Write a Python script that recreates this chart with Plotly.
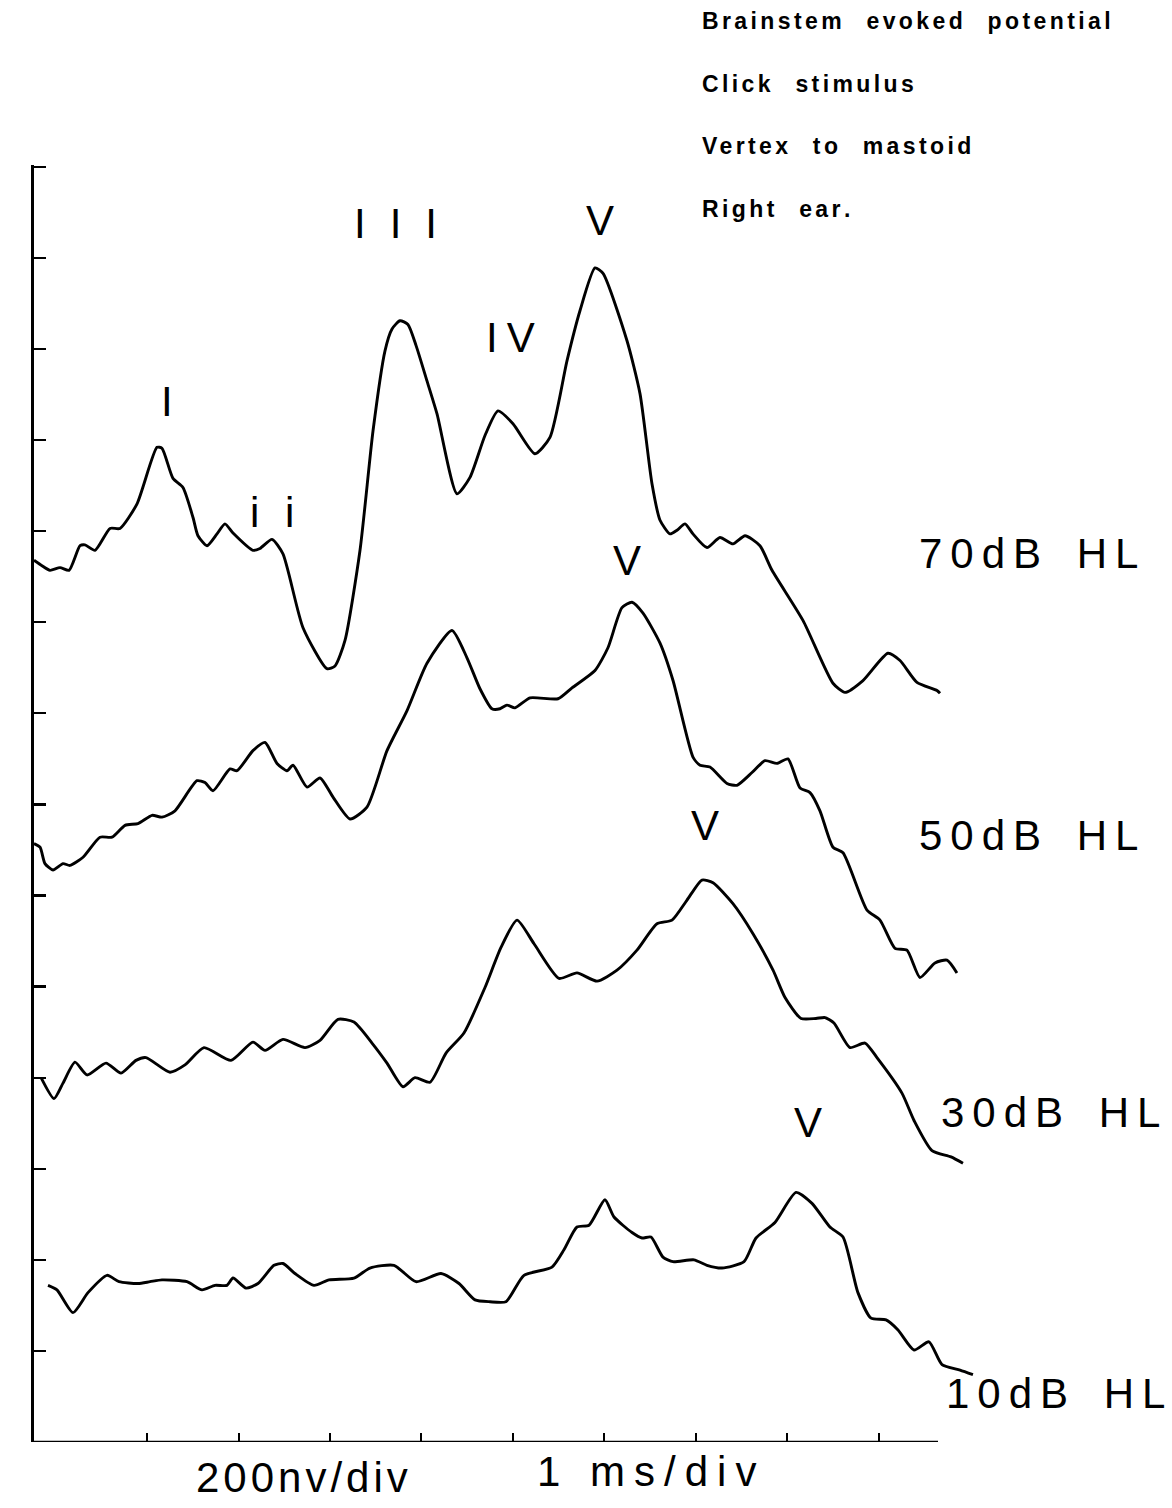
import plotly.graph_objects as go

# ---- recorded waveforms: time in ms, amplitude in 200 nV divisions (stacked) ----
time_70 = [-0.235, -0.148, -0.060, 0.049, 0.148, 0.268, 0.322, 0.432, 0.596, 0.705,
           0.891, 1.109, 1.164, 1.284, 1.393, 1.503, 1.557, 1.656, 1.765, 1.852,
           1.940, 2.158, 2.235, 2.366, 2.486, 2.705, 2.967, 3.055, 3.164, 3.328,
           3.470, 3.601, 3.678, 3.765, 3.852, 3.940, 4.060, 4.169, 4.388, 4.530,
           4.694, 4.836, 5.000, 5.240, 5.404, 5.590, 5.732, 5.896, 5.984, 6.246,
           6.388, 6.519, 6.607, 6.716, 6.792, 6.880, 6.967, 7.120, 7.262, 7.404,
           7.536, 7.699, 7.831, 8.169, 8.497, 8.628, 8.825, 9.098, 9.230, 9.415,
           9.634, 9.667]
amp_70 = [9.68, 9.62, 9.57, 9.60, 9.57, 9.84, 9.85, 9.79, 10.03, 10.03,
          10.30, 10.92, 10.91, 10.58, 10.48, 10.15, 9.95, 9.84, 9.97, 10.08,
          9.98, 9.79, 9.81, 9.91, 9.75, 8.94, 8.49, 8.52, 8.80, 9.79,
          11.10, 11.98, 12.22, 12.31, 12.27, 12.04, 11.65, 11.29, 10.41, 10.59,
          11.05, 11.32, 11.18, 10.85, 11.03, 11.87, 12.42, 12.89, 12.83, 12.09,
          11.51, 10.52, 10.12, 9.97, 10.01, 10.08, 9.97, 9.82, 9.93, 9.86,
          9.95, 9.84, 9.57, 9.02, 8.33, 8.23, 8.36, 8.66, 8.58, 8.34,
          8.25, 8.22]

time_50 = [-0.235, -0.169, -0.115, -0.027, 0.082, 0.158, 0.301, 0.486, 0.617, 0.760,
           0.902, 1.055, 1.164, 1.306, 1.546, 1.634, 1.721, 1.907, 1.984, 2.158,
           2.290, 2.421, 2.530, 2.596, 2.749, 2.891, 3.033, 3.219, 3.404, 3.623,
           3.842, 4.060, 4.333, 4.497, 4.639, 4.770, 4.858, 4.934, 5.022, 5.186,
           5.492, 5.645, 5.896, 6.038, 6.191, 6.301, 6.421, 6.607, 6.749, 6.967,
           7.044, 7.153, 7.339, 7.448, 7.612, 7.754, 7.885, 8.005, 8.137, 8.246,
           8.355, 8.497, 8.607, 8.869, 9.011, 9.175, 9.306, 9.448, 9.612, 9.743,
           9.852]
amp_50 = [6.57, 6.53, 6.35, 6.28, 6.35, 6.33, 6.42, 6.64, 6.64, 6.77,
          6.79, 6.88, 6.86, 6.93, 7.26, 7.24, 7.15, 7.39, 7.37, 7.59,
          7.68, 7.45, 7.37, 7.43, 7.19, 7.29, 7.08, 6.84, 6.97, 7.59,
          8.03, 8.55, 8.91, 8.61, 8.27, 8.05, 8.05, 8.09, 8.06, 8.17,
          8.16, 8.28, 8.47, 8.72, 9.16, 9.22, 9.10, 8.77, 8.36, 7.52,
          7.43, 7.41, 7.23, 7.21, 7.35, 7.48, 7.45, 7.50, 7.18, 7.13,
          6.93, 6.53, 6.47, 5.84, 5.73, 5.42, 5.40, 5.10, 5.26, 5.29,
          5.15]

time_30 = [-0.158, -0.016, 0.082, 0.213, 0.344, 0.552, 0.716, 0.880, 0.989, 1.251,
           1.415, 1.623, 1.918, 2.158, 2.290, 2.486, 2.727, 2.891, 3.087, 3.262,
           3.459, 3.623, 3.798, 3.929, 4.093, 4.268, 4.464, 4.694, 4.869, 5.044,
           5.230, 5.503, 5.699, 5.918, 6.137, 6.355, 6.574, 6.738, 6.902, 7.066,
           7.186, 7.404, 7.623, 7.842, 7.973, 8.148, 8.311, 8.410, 8.508, 8.683,
           8.847, 8.978, 9.251, 9.383, 9.579, 9.787, 9.918]
amp_30 = [4.00, 3.77, 3.94, 4.17, 4.03, 4.16, 4.05, 4.19, 4.22, 4.06,
          4.14, 4.33, 4.19, 4.39, 4.30, 4.42, 4.33, 4.41, 4.64, 4.61,
          4.38, 4.16, 3.90, 4.00, 3.95, 4.27, 4.49, 4.99, 5.43, 5.73,
          5.47, 5.09, 5.15, 5.06, 5.18, 5.40, 5.69, 5.73, 5.95, 6.17,
          6.14, 5.91, 5.58, 5.18, 4.88, 4.65, 4.65, 4.66, 4.60, 4.33,
          4.38, 4.22, 3.83, 3.53, 3.20, 3.13, 3.06]

time_10 = [-0.082, 0.016, 0.191, 0.355, 0.563, 0.694, 0.902, 1.033, 1.164, 1.437,
           1.601, 1.743, 1.874, 1.940, 2.082, 2.213, 2.388, 2.486, 2.617, 2.825,
           2.989, 3.262, 3.437, 3.699, 3.940, 4.213, 4.410, 4.585, 4.749, 4.923,
           5.120, 5.426, 5.557, 5.699, 5.831, 6.005, 6.104, 6.301, 6.410, 6.508,
           6.639, 6.749, 6.978, 7.120, 7.284, 7.525, 7.656, 7.863, 8.093, 8.268,
           8.464, 8.607, 8.770, 8.913, 9.077, 9.208, 9.383, 9.546, 9.689, 9.886,
           10.027]
amp_10 = [1.72, 1.67, 1.42, 1.64, 1.83, 1.76, 1.74, 1.76, 1.78, 1.76,
          1.67, 1.72, 1.72, 1.80, 1.69, 1.74, 1.94, 1.96, 1.85, 1.72,
          1.78, 1.80, 1.91, 1.94, 1.76, 1.85, 1.74, 1.56, 1.54, 1.54,
          1.83, 1.92, 2.11, 2.36, 2.38, 2.66, 2.47, 2.30, 2.24, 2.25,
          2.03, 1.98, 2.00, 1.94, 1.91, 1.98, 2.24, 2.41, 2.74, 2.62,
          2.36, 2.25, 1.64, 1.36, 1.34, 1.23, 1.01, 1.10, 0.85, 0.79,
          0.74]

level_names = ["70dB HL", "50dB HL", "30dB HL", "10dB HL"]

# wave component labels and where they sit (ms, div)
wave_labels = ["I", "i i", "III", "IV", "V", "V", "V", "V"]
wave_label_t = [1.219, 2.104, 3.240, 4.683, 5.951, 6.246, 7.098, 8.224]
wave_label_v = [11.42, 10.20, 13.38, 12.13, 13.41, 9.68, 6.77, 3.51]
wave_label_anchor = ["center", "left", "left", "left", "center", "center", "center", "center"]
wave_label_spacing = [0, 7, 24, 9, 0, 0, 0, 0]

# recording conditions
condition_lines = ["Brainstem evoked potential", "Click stimulus",
                   "Vertex to mastoid", "Right ear."]

x_ticks_ms = list(range(1, 10))
y_ticks_div = list(range(1, 15))

# ---- page geometry ----
W, H = 1172, 1508
PL, PR, PT, PB = 34, 980, 165, 1442     # plot area edges in page pixels
T_MIN, T_MAX = -0.235, 10.104
V_MAX = 14.02                           # keeps the top division tick visible
AXIS_END_T = 9.645                      # time axis line stops here
PLOT_FONT = "Liberation Sans, Arial, sans-serif"


def paper(px, py):
    return (px - PL) / (PR - PL), (PB - py) / (PB - PT)


def spaced(text, px, word_px=None):
    """Letter-spaced text; the last glyph carries no trailing gap."""
    if px <= 0 or len(text) < 2:
        return text
    body = text[:-1]
    if word_px is not None:
        body = body.replace(" ", f'<span style="letter-spacing:{word_px}px"> </span>')
    return f'<span style="letter-spacing:{px}px">{body}</span>{text[-1]}'


fig = go.Figure()

series = [(time_70, amp_70), (time_50, amp_50), (time_30, amp_30), (time_10, amp_10)]
for (t, a), name in zip(series, level_names):
    fig.add_trace(go.Scatter(
        x=t, y=a, mode="lines", name=name,
        line=dict(color="black", width=2.9, shape="spline", smoothing=0.6),
        hoverinfo="skip", showlegend=False,
    ))

# wave component labels over the peaks
for lab, t, v, anc, ls in zip(wave_labels, wave_label_t, wave_label_v,
                              wave_label_anchor, wave_label_spacing):
    fig.add_annotation(x=t, y=v, xref="x", yref="y", text=spaced(lab, ls),
                       showarrow=False, xanchor=anc, yanchor="middle",
                       font=dict(family=PLOT_FONT, size=42, color="black"))

# stimulus level labels at the right of each trace
level_pos = [(917, 553), (917, 835), (939, 1112), (944, 1393)]
for name, (px, py) in zip(level_names, level_pos):
    xp, yp = paper(px, py)
    fig.add_annotation(x=xp, y=yp, xref="paper", yref="paper",
                       text=spaced(name, 8, word_px=16),
                       showarrow=False, xanchor="left", yanchor="middle",
                       font=dict(family=PLOT_FONT, size=42, color="black"))

# recording conditions block, top right
for i, line in enumerate(condition_lines):
    xp, yp = paper(700, 21 + 62.5 * i)
    fig.add_annotation(x=xp, y=yp, xref="paper", yref="paper",
                       text=spaced(line, 3.4, word_px=15), showarrow=False,
                       xanchor="left", yanchor="middle",
                       font=dict(family=PLOT_FONT, size=23, color="black",
                                 weight="bold"))

# scale captions under the time axis
for txt, px, py, ls in [("200nv/div", 194, 1477, 4), ("1 ms/div", 535, 1471, 9)]:
    xp, yp = paper(px, py)
    fig.add_annotation(x=xp, y=yp, xref="paper", yref="paper",
                       text=spaced(txt, ls), showarrow=False,
                       xanchor="left", yanchor="middle",
                       font=dict(family=PLOT_FONT, size=42, color="black"))

# time axis base line, stopping short of the trace tails
fig.add_shape(type="line", xref="x", yref="y", x0=T_MIN, x1=AXIS_END_T, y0=0, y1=0,
              line=dict(color="black", width=2.5), layer="above")

fig.update_layout(
    width=W, height=H, autosize=False,
    margin=dict(l=PL, r=W - PR, t=PT, b=H - PB, pad=0),
    paper_bgcolor="white", plot_bgcolor="white",
    showlegend=False,
    xaxis=dict(range=[T_MIN, T_MAX], showline=False,
               ticks="inside", tickvals=x_ticks_ms, ticklen=9, tickwidth=2,
               tickcolor="black", showticklabels=False, showgrid=False,
               zeroline=False, fixedrange=True),
    yaxis=dict(range=[0, V_MAX], showline=True, linecolor="black", linewidth=2.8,
               ticks="inside", tickvals=y_ticks_div, ticklen=12,
               tickwidth=2.2, tickcolor="black", showticklabels=False,
               showgrid=False, zeroline=False, fixedrange=True),
)

fig.write_html("out.html", config={"displayModeBar": False, "staticPlot": True})
